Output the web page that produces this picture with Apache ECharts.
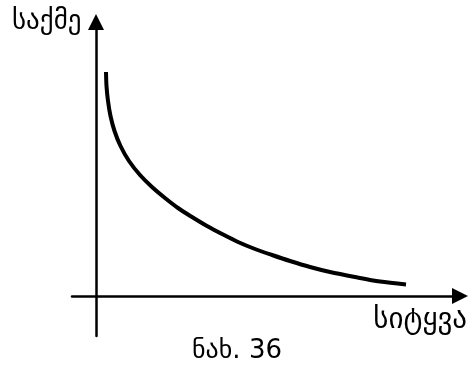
<!DOCTYPE html>
<html>
<head>
<meta charset="utf-8">
<script src="https://cdn.jsdelivr.net/npm/echarts@6/dist/echarts.min.js"></script>
<style>
  html, body { margin: 0; padding: 0; background: #fff; }
  #chart { width: 468px; height: 369px; }
</style>
</head>
<body>
<div id="chart"></div>
<script>
// Words (x) against deeds (y): a falling curve
const wordsX = [1.0, 1.05, 1.2, 1.45, 1.85, 2.45, 3.3, 4.4, 5.6, 6.9, 8.2, 9.6, 11.1, 12.6, 14.2, 15.9, 17.6, 19.4, 21.4, 23.4, 25.9, 28.4, 31.0];
const deedsY = [22.4, 21.0, 19.5, 18.0, 16.5, 15.0, 13.5, 12.1, 10.9, 9.8, 8.8, 7.9, 7.0, 6.2, 5.4, 4.7, 4.1, 3.5, 2.9, 2.4, 1.9, 1.45, 1.15];
const xAxisName = 'სიტყვა';
const yAxisName = 'საქმე';
const caption = 'ნახ. 36';

const FONT = 'DejaVu Sans';
const chart = echarts.init(document.getElementById('chart'), null, { renderer: 'canvas' });

const axisCommon = {
  type: 'value',
  axisLine: {
    show: true,
    onZero: true,
    symbol: ['none', 'triangle'],
    symbolSize: [16, 16],
    lineStyle: { color: '#000', width: 2.5 }
  },
  axisTick: { show: false },
  axisLabel: { show: false },
  splitLine: { show: false }
};

chart.setOption({
  animation: false,
  backgroundColor: '#fff',
  grid: { left: 72, right: 8, top: 22, bottom: 33 },
  xAxis: Object.assign({}, axisCommon, { min: -2.4, max: 36.4 }),
  yAxis: Object.assign({}, axisCommon, { min: -4, max: 27.4 }),
  graphic: [
    { type: 'text', left: 12, top: 8, style: { text: yAxisName, font: '27px "' + FONT + '"', fill: '#000' } },
    { type: 'text', right: 1, top: 306, style: { text: xAxisName, font: '29px "' + FONT + '"', fill: '#000' } },
    { type: 'text', left: 192, top: 338, style: { text: caption, font: '26px "' + FONT + '"', fill: '#000' } }
  ],
  series: [{
    type: 'line',
    data: wordsX.map((x, i) => [x, deedsY[i]]),
    smooth: 0.3,
    showSymbol: false,
    lineStyle: { color: '#000', width: 4 }
  }]
});
</script>
</body>
</html>
